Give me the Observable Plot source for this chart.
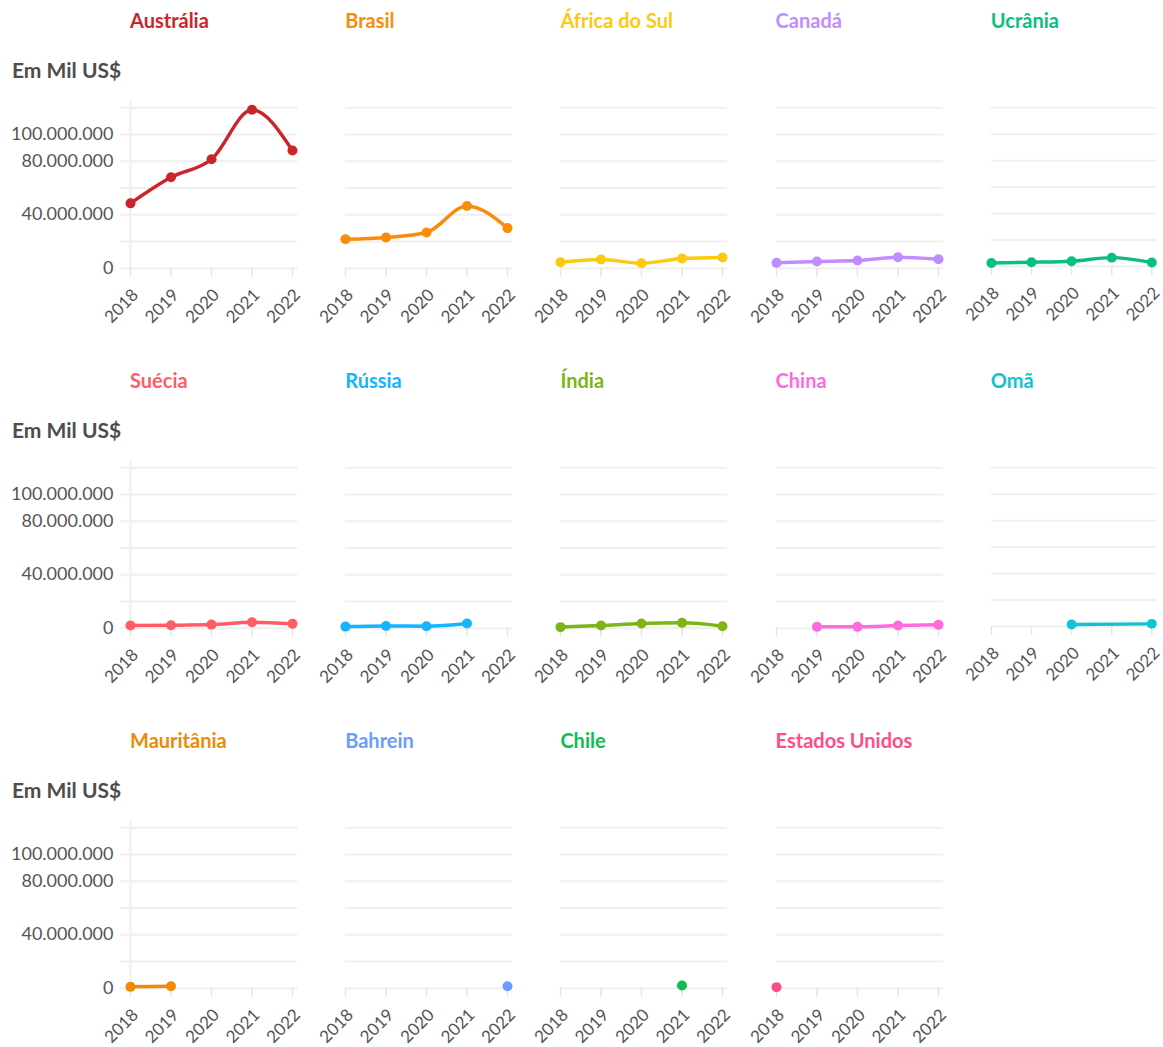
<!DOCTYPE html>
<html>
<head>
<meta charset="utf-8">
<script src="https://cdn.jsdelivr.net/npm/d3@7"></script>
<script src="https://cdn.jsdelivr.net/npm/@observablehq/plot@0.6"></script>
<style>
  body { margin: 0; background: #fff; font-family: Lato, "Noto Sans", sans-serif; }
  #root { position: relative; width: 1163px; height: 1047px; overflow: hidden; }
  .title { position: absolute; font-weight: 700; font-size: 20px; white-space: nowrap; line-height: 1; }
  .unit { position: absolute; font-weight: 700; font-size: 21px; color: #4d4d4d; white-space: nowrap; line-height: 1; }
  .panel { position: absolute; }
</style>
</head>
<body>
<div id="root"></div>
<script>
// ---- data ----
const years = [2018, 2019, 2020, 2021, 2022];
const countries = ["Austrália", "Brasil", "África do Sul", "Canadá", "Ucrânia",
                   "Suécia", "Rússia", "Índia", "China", "Omã",
                   "Mauritânia", "Bahrein", "Chile", "Estados Unidos"];
const colors = ["#cc2529", "#fb8c0b", "#fbc90f", "#c08cff", "#08bf7f",
                "#ff5c66", "#14b4ff", "#7db515", "#ff6bdc", "#10c4cf",
                "#ef8a03", "#6b9cff", "#0cbf4d", "#ff4d8b"];
// values in Mil US$ (null = no data), one entry per year 2018..2022
const australia    = [48.5e6, 68e6, 81.5e6, 118.5e6, 88e6];
const brasil       = [21.7e6, 23e6, 26.7e6, 46.6e6, 30e6];
const africaDoSul  = [4.5e6, 6.5e6, 3.7e6, 7.2e6, 8e6];
const canada       = [4e6, 5e6, 5.7e6, 8.2e6, 6.7e6];
const ucrania      = [2.7e6, 3.2e6, 4e6, 6.7e6, 3e6];
const suecia       = [2e6, 2.2e6, 2.7e6, 4.5e6, 3.3e6];
const russia       = [1.2e6, 1.7e6, 1.5e6, 3.5e6, null];
const india        = [0.8e6, 2e6, 3.5e6, 4e6, 1.5e6];
const china        = [null, 1e6, 1e6, 2e6, 2.5e6];
const oma          = [null, null, 1.5e6, null, 2e6];
const mauritania   = [1e6, 1.5e6, null, null, null];
const bahrein      = [null, null, null, null, 1.5e6];
const chile        = [null, null, null, 2e6, null];
const estadosUnidos= [0.8e6, null, null, null, null];
const series = [australia, brasil, africaDoSul, canada, ucrania, suecia, russia, india,
                china, oma, mauritania, bahrein, chile, estadosUnidos];
const gridValues = [0, 20e6, 40e6, 60e6, 80e6, 100e6, 120e6];
const yTickLabels = [0, 40e6, 80e6, 100e6];
const yDomain = [0, 120e6];
const unitLabel = "Em Mil US$";

// ---- layout ----
const root = document.getElementById("root");
const colStep = 215.2, rowStep = 360;
const fmt = d => d3.format(",")(d).replace(/,/g, ".");

countries.forEach((name, i) => {
  const col = i % 5, row = Math.floor(i / 5);
  const x0 = 130 + colStep * col;      // page x of 2018
  const rowTop = row * rowStep;
  const color = colors[i];
  const data = years.map((y, k) => ({year: y, value: series[i][k]})).filter(d => d.value != null);

  const t = document.createElement("div");
  t.className = "title";
  t.textContent = name;
  t.style.color = color;
  t.style.left = x0 + "px";
  t.style.top = (rowTop + 10) + "px";
  root.appendChild(t);

  if (col === 0) {
    const u = document.createElement("div");
    u.className = "unit";
    u.textContent = unitLabel;
    u.style.left = "12px";
    u.style.top = (rowTop + 59) + "px";
    root.appendChild(u);
  }

  const H = 240, top = 5, zeroY = 172.7, topY = 12.3;
  const first = col === 0;
  const ml = first ? 120 : 10;
  const xStart = first ? 130 : 10;
  const W = xStart + 162 + 12;

  const marks = [
    Plot.ruleY(gridValues, {x1: years[0], x2: years[years.length - 1],
                            insetLeft: first ? -10 : 0, insetRight: -5,
                            stroke: "#efefef", strokeWidth: 2}),
    // tick marks
    Plot.axisX(years, {label: null, tickSize: 9, stroke: "#e4e4e4", strokeWidth: 1.5,
                       tickFormat: () => ""}),
    // rotated tick labels
    Plot.axisX(years, {label: null, tickRotate: -45, tickSize: 0,
                       tickFormat: d => String(d), fill: "#555", fontSize: 17, tickPadding: 13,
                       dx: 5, dy: 11}),
  ];
  if (first) {
    marks.push(Plot.ruleX([years[0]], {stroke: "#efefef", strokeWidth: 2}));
    marks.push(Plot.axisY(yTickLabels, {label: null, anchor: "left", tickSize: 0, tickPadding: 7,
                                        tickFormat: fmt, fill: "#555", fontSize: 18}));
  }
  marks.push(Plot.line(data, {x: "year", y: "value", stroke: color, strokeWidth: 3.5, curve: "monotone-x"}));
  marks.push(Plot.dot(data, {x: "year", y: "value", fill: color, r: 5}));

  const chart = Plot.plot({
    width: W, height: H,
    marginLeft: ml, marginRight: 5, marginTop: top, marginBottom: H - zeroY,
    style: {fontFamily: "Lato, 'Noto Sans', sans-serif", background: "transparent", overflow: "visible"},
    x: {type: "linear", domain: [2018, 2022], range: [xStart, xStart + 162], axis: null},
    y: {domain: yDomain, range: [zeroY, topY], axis: null},
    marks
  });
  const wrap = document.createElement("div");
  wrap.className = "panel";
  wrap.style.left = (x0 - xStart) + "px";
  wrap.style.top = (rowTop + 95) + "px";
  wrap.appendChild(chart);
  root.appendChild(wrap);
});
</script>
</body>
</html>
